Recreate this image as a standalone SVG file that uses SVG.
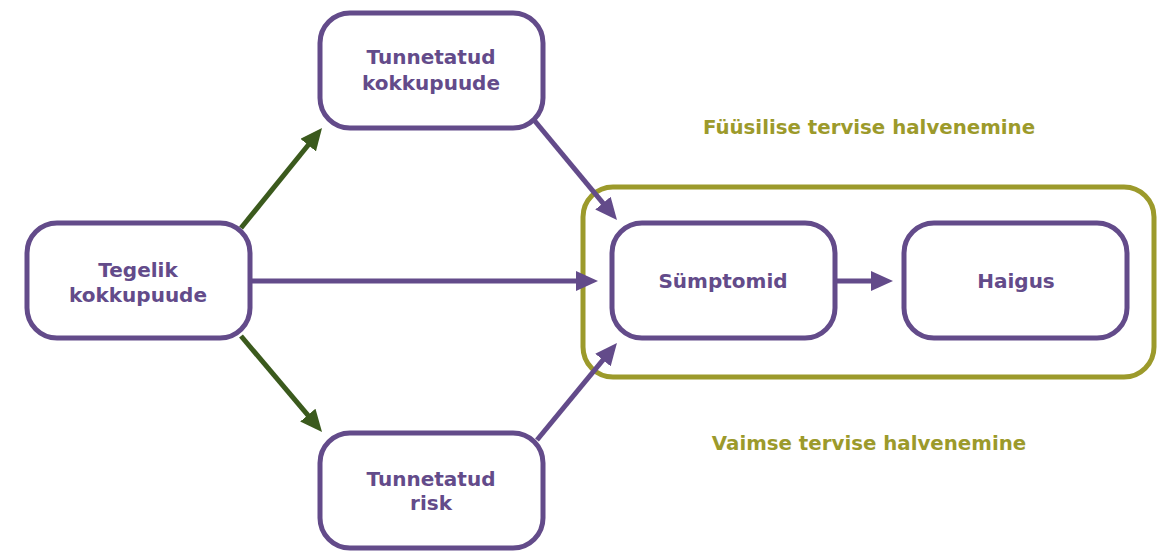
<svg xmlns="http://www.w3.org/2000/svg" width="1157" height="551" viewBox="0 0 1157 551">
<style>
.node{fill:#fff;stroke:#634b8a;stroke-width:5}
.lbl{font-family:"DejaVu Sans","Liberation Sans",sans-serif;font-weight:700;font-size:20px;fill:#634b8a;text-anchor:middle}
.olbl{font-family:"DejaVu Sans","Liberation Sans",sans-serif;font-weight:700;font-size:19.8px;fill:#9c9a2b;text-anchor:middle}
.pl{stroke:#634b8a;stroke-width:5;fill:none}
.gl{stroke:#3b5a1d;stroke-width:5;fill:none}
</style>
<defs>
<marker id="ap" markerUnits="userSpaceOnUse" markerWidth="22" markerHeight="20" refX="4" refY="10" orient="auto"><path d="M0,0 L22,10 L0,20 z" fill="#634b8a"/></marker>
<marker id="ag" markerUnits="userSpaceOnUse" markerWidth="22" markerHeight="20" refX="4" refY="10" orient="auto"><path d="M0,0 L22,10 L0,20 z" fill="#3b5a1d"/></marker>
</defs>
<rect width="1157" height="551" fill="#fff"/>
<g id="container">
<rect x="583" y="187" width="571" height="190" rx="30" fill="none" stroke="#9c9a2b" stroke-width="5"/>
<text class="olbl" x="869" y="134">Füüsilise tervise halvenemine</text>
<text class="olbl" x="869" y="450">Vaimse tervise halvenemine</text>
</g>
<g id="connectors">
<line class="gl" x1="241" y1="228" x2="310.7" y2="142" marker-end="url(#ag)"/>
<line class="gl" x1="241" y1="336" x2="310.4" y2="418.2" marker-end="url(#ag)"/>
<line class="pl" x1="252" y1="281" x2="580" y2="281" marker-end="url(#ap)"/>
<line class="pl" x1="534" y1="120" x2="605.5" y2="206.2" marker-end="url(#ap)"/>
<line class="pl" x1="537" y1="440" x2="605.5" y2="356.9" marker-end="url(#ap)"/>
<line class="pl" x1="837" y1="281" x2="875" y2="281" marker-end="url(#ap)"/>
</g>
<g id="tegelik">
<rect class="node" x="27" y="223" width="223" height="115" rx="30"/>
<text class="lbl" x="138" y="277">Tegelik</text>
<text class="lbl" x="138" y="302">kokkupuude</text>
</g>
<g id="tunnetatud-kokkupuude">
<rect class="node" x="320" y="13" width="223" height="115" rx="30"/>
<text class="lbl" x="431" y="64">Tunnetatud</text>
<text class="lbl" x="431" y="90">kokkupuude</text>
</g>
<g id="tunnetatud-risk">
<rect class="node" x="320" y="433" width="223" height="115" rx="30"/>
<text class="lbl" x="431" y="486">Tunnetatud</text>
<text class="lbl" x="431" y="510">risk</text>
</g>
<g id="symptomid">
<rect class="node" x="612" y="223" width="223" height="115" rx="30"/>
<text class="lbl" x="723" y="288">Sümptomid</text>
</g>
<g id="haigus">
<rect class="node" x="904" y="223" width="223" height="115" rx="30"/>
<text class="lbl" x="1016" y="288">Haigus</text>
</g>
</svg>
